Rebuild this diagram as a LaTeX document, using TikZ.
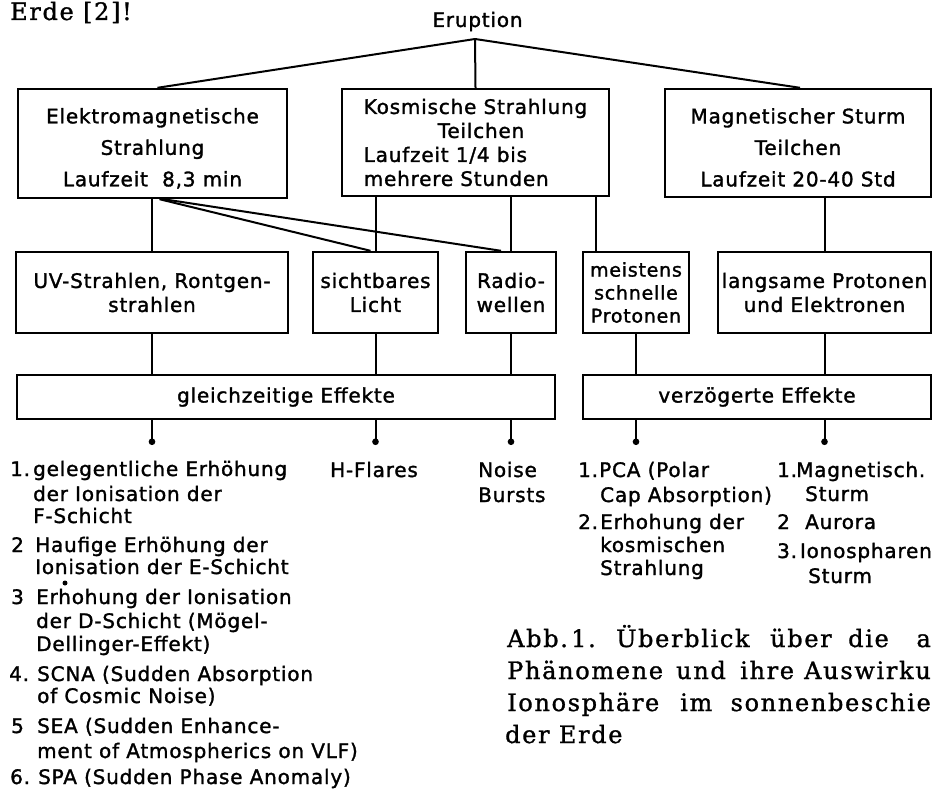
\documentclass[tikz,border=0pt]{standalone}
\usepackage{fontspec}
\setmainfont{DejaVu Sans}[LetterSpace=4,FakeBold=1.5]
\newfontfamily\capfont{DejaVu Serif}[LetterSpace=7,FakeBold=1.2]
\usetikzlibrary{arrows.meta}
\newcommand{\mytxt}[4]{\node[lsttext] (#1) at (#2,#3) {#4};}
\newcommand{\mycap}[4]{\node[captext] (#1) at (#2,#3) {#4};}
\begin{document}
\begin{tikzpicture}[x=1pt,y=-1pt,
  box/.style={draw, line width=2.4pt, inner sep=0pt, align=center, font=\fontsize{20}{24}\selectfont},
  con/.style={line width=2pt},
  eff/.style={con, -{Circle[length=6.5pt]}},
  lsttext/.style={anchor=base west, inner sep=0pt, font=\fontsize{20}{24}\selectfont},
  captext/.style={anchor=base west, inner sep=0pt, font=\capfont\fontsize{24}{28}\selectfont}]
\useasboundingbox (0,0) rectangle (933,791);
\fill[white] (0,0) rectangle (933,791);
\clip (0,0) rectangle (933,791);

% headline fragment
\mycap{erde}{10}{20}{Erde [2]!}
\node[anchor=base, inner sep=0pt, font=\fontsize{20}{24}\selectfont] (eru) at (477.5,27) {Eruption};
\coordinate (J) at (475,39);

% top row
\node[box, minimum width=269pt, minimum height=109pt, font=\fontsize{20}{31.5}\selectfont] (A) at (152.5,143.5)
  {\rule{0pt}{25pt}Elektromagnetische\\Strahlung\\Laufzeit \ 8,3 min};
\node[box, minimum width=267pt, minimum height=107pt, align=left] (B) at (475.5,142.5)
  {Kosmische Strahlung\\\hspace*{74pt}Teilchen\\Laufzeit 1/4 bis\\mehrere Stunden};
\node[box, minimum width=266pt, minimum height=108pt, font=\fontsize{20}{31.5}\selectfont] (C) at (798,143)
  {\rule{0pt}{24pt}Magnetischer Sturm\\Teilchen\\Laufzeit 20-40 Std};

% second row
\node[box, minimum width=272pt, minimum height=81pt] (UV) at (152,292.5) {UV-Strahlen, Rontgen-\\strahlen};
\node[box, minimum width=125pt, minimum height=81pt] (Licht) at (375.5,292.5) {sichtbares\\Licht};
\node[box, minimum width=90pt, minimum height=81pt] (Radio) at (511,292.5) {Radio-\\wellen};
\node[box, minimum width=106pt, minimum height=81pt, font=\fontsize{19}{23}\selectfont] (Prot) at (636,292.5) {meistens\\schnelle\\Protonen};
\node[box, minimum width=213pt, minimum height=81pt] (Lang) at (824.5,292.5) {langsame Protonen\\und Elektronen};

% third row
\node[box, minimum width=538pt, minimum height=44pt] (G) at (286,397) {gleichzeitige Effekte};
\node[box, minimum width=348pt, minimum height=44pt] (V) at (757,397) {verzögerte Effekte};

% connectors
\draw[con] (J) -- ([xshift=5pt]A.north);
\draw[con] (J) -- (B.north);
\draw[con] (J) -- ([xshift=2pt]C.north);

\draw[con] (UV.north |- A.south) -- (UV.north);
\draw[con] ([xshift=7pt]A.south) -- ([xshift=-5pt]Licht.north);
\draw[con] ([xshift=11pt]A.south) -- ([xshift=-10pt]Radio.north);
\draw[con] (Licht.north |- B.south) -- (Licht.north);
\draw[con] (Radio.north |- B.south) -- (Radio.north);
\draw[con] ([xshift=-40pt]Prot.north |- B.south) -- ([xshift=-40pt]Prot.north);
\draw[con] (Lang.north |- C.south) -- (Lang.north);

\draw[con] (UV.south) -- (UV.south |- G.north);
\draw[con] (Licht.south) -- (Licht.south |- G.north);
\draw[con] (Radio.south) -- (Radio.south |- G.north);
\draw[con] (Prot.south) -- (Prot.south |- V.north);
\draw[con] (Lang.south) -- (Lang.south |- V.north);

\coordinate (e1) at (152,445);
\coordinate (e2) at (375.5,445);
\coordinate (e3) at (511,445);
\coordinate (e4) at (636,445);
\coordinate (e5) at (824.5,445);
\draw[eff] (e1 |- G.south) -- (e1);
\draw[eff] (e2 |- G.south) -- (e2);
\draw[eff] (e3 |- G.south) -- (e3);
\draw[eff] (e4 |- V.south) -- (e4);
\draw[eff] (e5 |- V.south) -- (e5);

% left list
\mytxt{n1}{10}{476}{1.}
\mytxt{a1}{33}{476}{gelegentliche Erhöhung}
\mytxt{a2}{33}{501}{der Ionisation der}
\mytxt{a3}{33}{523}{F-Schicht}
\mytxt{n2}{11}{552}{2}
\mytxt{b1}{35}{552}{Haufige Erhöhung der}
\mytxt{b2}{35}{574}{Ionisation der E-Schicht}
\mytxt{n3}{11}{604}{3}
\mytxt{c1}{36}{604}{Erhohung der Ionisation}
\mytxt{c2}{36}{628}{der D-Schicht (Mögel-}
\mytxt{c3}{36}{651}{Dellinger-Effekt)}
\fill (65,583) circle (2.5);
\mytxt{n4}{9}{681}{4.}
\mytxt{d1}{37}{681}{SCNA (Sudden Absorption}
\mytxt{d2}{37}{703}{of Cosmic Noise)}
\mytxt{n5}{11}{733}{5}
\mytxt{f1}{37}{733}{SEA (Sudden Enhance-}
\mytxt{f2}{37}{758}{ment of Atmospherics on VLF)}
\mytxt{n6}{10}{784}{6.}
\mytxt{g1}{38}{784}{SPA (Sudden Phase Anomaly)}

% middle outputs
\node[anchor=base, inner sep=0pt, font=\fontsize{20}{24}\selectfont] (hf) at (374,477) {H-Flares};
\mytxt{no1}{478}{477}{Noise}
\mytxt{no2}{478}{502}{Bursts}

\mytxt{m1}{578}{477}{1.}
\mytxt{m1a}{599}{477}{PCA (Polar}
\mytxt{m1b}{600}{502}{Cap Absorption)}
\mytxt{m2}{578}{529}{2.}
\mytxt{m2a}{600}{529}{Erhohung der}
\mytxt{m2b}{600}{552}{kosmischen}
\mytxt{m2c}{600}{575}{Strahlung}

\mytxt{r1}{777}{477}{1.}
\mytxt{r1a}{796}{477}{Magnetisch.}
\mytxt{r1b}{805}{501}{Sturm}
\mytxt{r2}{777}{529}{2}
\mytxt{r2a}{805}{529}{Aurora}
\mytxt{r3}{777}{558}{3.}
\node[lsttext, anchor=base east] (r3a) at (932,558) {Ionospharen};
\mytxt{r3b}{808}{583}{Sturm}

% caption
\mycap{w1}{507}{647}{Abb.}
\mycap{w2}{571}{647}{1.}
\mycap{w3}{616}{647}{Überblick}
\mycap{w4}{770}{647}{über}
\mycap{w5}{848}{647}{die}
\node[captext, anchor=base east] (w6) at (931,647) {a};
\mycap{w7}{507}{679}{Phänomene}
\mycap{w8}{676}{679}{und}
\mycap{w9}{740}{679}{ihre}
\node[captext, anchor=base east] (w10) at (931,679) {Auswirku};
\mycap{w11}{507}{711}{Ionosphäre}
\mycap{w12}{680}{711}{im}
\node[captext, anchor=base east] (w13) at (931,711) {sonnenbeschie};
\mycap{w14}{505}{743}{der Erde}
\end{tikzpicture}
\end{document}
